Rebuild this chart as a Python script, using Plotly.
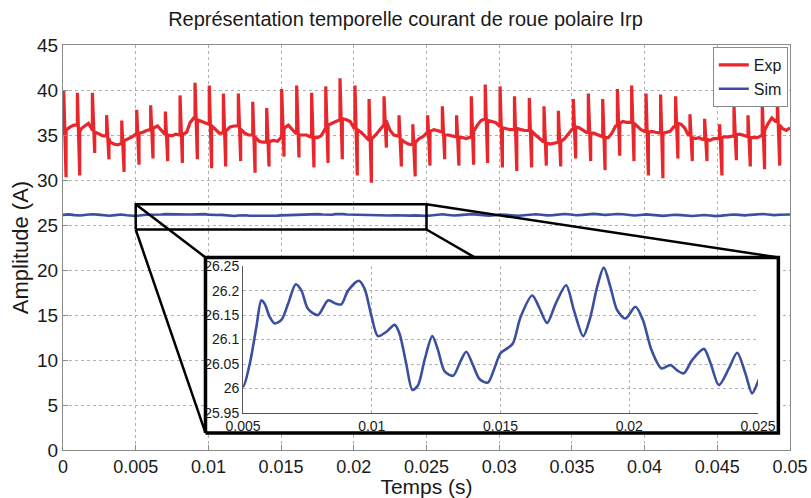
import plotly.graph_objects as go
import numpy as np

title = "Représentation temporelle courant de roue polaire Irp"

x_tickvals = [0, 0.005, 0.01, 0.015, 0.02, 0.025, 0.03, 0.035, 0.04, 0.045, 0.05]
x_ticktext = ["0", "0.005", "0.01", "0.015", "0.02", "0.025", "0.03", "0.035", "0.04", "0.045", "0.05"]
y_tickvals = [0, 5, 10, 15, 20, 25, 30, 35, 40, 45]

# Exp: baseline sampled every 0.25 ms
base_t = np.linspace(0, 0.05, 201)
base_v = [
    35.2, 35.6, 35.9, 36.1, 35.4, 35.7, 36.0, 36.3, 35.6, 35.3, 35.1, 34.9,
    34.6, 34.2, 34.0, 33.9, 34.1, 34.4, 34.6, 34.8, 35.1, 35.2, 35.3, 35.5,
    35.6, 35.8, 36.0, 35.5, 35.1, 35.0, 34.9, 35.1, 35.0, 35.1, 35.3, 36.4,
    36.9, 36.7, 36.5, 36.4, 36.2, 36.0, 35.6, 35.2, 35.2, 35.5, 35.9, 36.0,
    36.0, 35.6, 35.2, 35.0, 35.0, 34.7, 34.3, 34.2, 34.2, 34.3, 34.4, 34.3,
    34.8, 35.8, 36.1, 35.6, 35.2, 35.0, 35.0, 35.0, 34.8, 34.7, 34.7, 34.9,
    35.6, 36.1, 36.3, 36.5, 36.7, 36.8, 36.7, 36.5, 35.8, 35.6, 35.3, 34.9,
    34.4, 34.6, 35.0, 35.5, 36.0, 36.5, 35.5, 35.0, 34.9, 34.5, 34.2, 34.0,
    33.9, 34.2, 34.6, 34.8, 35.2, 35.4, 35.6, 35.5, 35.3, 35.0, 35.0, 34.9,
    34.8, 34.7, 34.7, 34.6, 34.8, 35.4, 36.1, 36.6, 36.8, 36.6, 36.5, 36.4,
    36.0, 35.8, 35.7, 35.6, 35.6, 35.7, 35.6, 35.5, 35.5, 35.4, 35.0, 34.6,
    34.3, 34.1, 34.0, 34.1, 34.2, 34.3, 34.6, 35.1, 35.6, 35.9, 35.8, 35.5,
    35.3, 35.2, 35.2, 35.0, 34.8, 34.7, 34.7, 35.2, 36.0, 36.3, 36.5, 36.4,
    36.4, 36.3, 36.0, 35.6, 35.4, 35.3, 35.4, 35.3, 35.2, 35.2, 35.3, 35.4,
    35.9, 36.3, 36.2, 35.8, 35.0, 34.7, 34.6, 34.7, 34.5, 34.5, 34.4, 34.6,
    34.6, 34.7, 34.8, 34.8, 34.9, 35.0, 35.1, 35.0, 34.8, 34.7, 34.7, 34.7,
    34.9, 35.5, 36.3, 36.9, 36.5, 36.1, 35.7, 35.5, 35.8,
]

# Exp: switching spikes (peak then dip)
spike_t = [
    0.00005, 0.00099, 0.00202, 0.00300, 0.00404, 0.00507, 0.00603, 0.00704, 0.00805, 0.00908,
    0.01006, 0.01103, 0.01206, 0.01305, 0.01401, 0.01504, 0.01607, 0.01710, 0.01807, 0.01905,
    0.02008, 0.02105, 0.02208, 0.02311, 0.02406, 0.02508, 0.02609, 0.02707, 0.02808, 0.02904,
    0.03006, 0.03105, 0.03207, 0.03308, 0.03407, 0.03510, 0.03613, 0.03712, 0.03813, 0.03911,
    0.04010, 0.04110, 0.04213, 0.04312, 0.04413, 0.04516, 0.04615, 0.04711, 0.04809, 0.04913,
]
spike_hi = [
    40.0, 39.7, 39.7, 37.2, 36.6, 37.8, 38.3, 37.6, 39.4, 40.8,
    40.5, 39.6, 39.6, 38.7, 38.0, 40.1, 40.5, 39.7, 40.4, 41.3,
    40.5, 39.0, 39.3, 37.2, 36.2, 37.2, 38.2, 37.2, 39.3, 40.6,
    40.4, 39.3, 39.1, 38.2, 37.7, 39.0, 39.6, 39.0, 40.1, 40.5,
    39.6, 39.5, 39.3, 37.3, 36.8, 36.2, 38.1, 37.2, 38.9, 39.1,
]
dip_t = [
    0.00021, 0.00115, 0.00218, 0.00316, 0.00420, 0.00523, 0.00619, 0.00720, 0.00821, 0.00924,
    0.01022, 0.01119, 0.01222, 0.01321, 0.01417, 0.01520, 0.01623, 0.01726, 0.01823, 0.01921,
    0.02024, 0.02121, 0.02224, 0.02327, 0.02422, 0.02524, 0.02625, 0.02723, 0.02824, 0.02920,
    0.03022, 0.03121, 0.03223, 0.03324, 0.03423, 0.03526, 0.03629, 0.03728, 0.03829, 0.03927,
    0.04026, 0.04126, 0.04229, 0.04328, 0.04429, 0.04532, 0.04631, 0.04727, 0.04825, 0.04929,
]
spike_lo = [
    30.3, 30.5, 33.0, 32.3, 30.9, 31.7, 32.4, 32.1, 31.9, 32.3,
    31.3, 31.5, 32.1, 30.8, 31.5, 32.6, 32.5, 31.4, 31.9, 32.3,
    30.5, 29.7, 33.6, 31.5, 30.4, 31.6, 32.3, 31.6, 31.7, 31.9,
    31.4, 31.0, 31.4, 31.6, 31.5, 32.4, 32.1, 31.1, 32.7, 32.1,
    30.5, 30.2, 32.4, 32.1, 32.1, 30.5, 32.2, 31.5, 31.2, 31.6,
]

# Sim
sim_t = [
    0.0, 0.0004, 0.0008, 0.0012, 0.0016, 0.0020, 0.0024, 0.0028, 0.0032, 0.0036, 0.0040, 0.0044, 0.0047,
    0.00500, 0.00526, 0.00552, 0.00571, 0.00584, 0.00604, 0.00623, 0.00649, 0.00675, 0.00705,
    0.00727, 0.00752, 0.00791, 0.00830, 0.00862, 0.00882, 0.00908, 0.00950, 0.00972, 0.00998,
    0.01024, 0.01057, 0.01089, 0.01108, 0.01134, 0.01158, 0.01180, 0.01205, 0.01235, 0.01257,
    0.01283, 0.01316, 0.01344, 0.01367, 0.01393, 0.01419, 0.01451, 0.01474, 0.01500, 0.01526,
    0.01548, 0.01578, 0.01623, 0.01649, 0.01681, 0.01714, 0.01755, 0.01785, 0.01821, 0.01849,
    0.01875, 0.01901, 0.01927, 0.01953, 0.01985, 0.02024, 0.02053, 0.02086, 0.02125, 0.02160,
    0.02186, 0.02212, 0.02244, 0.02290, 0.02316, 0.02348, 0.02387, 0.02419, 0.02451, 0.02477,
    0.02497, 0.0253, 0.0257, 0.0261, 0.0265, 0.0269, 0.0273, 0.0277, 0.0281, 0.0285, 0.0289,
    0.0293, 0.0297, 0.0301, 0.0305, 0.0309, 0.0313, 0.0317, 0.0321, 0.0325, 0.0329, 0.0333,
    0.0337, 0.0341, 0.0345, 0.0349, 0.0353, 0.0357, 0.0361, 0.0365, 0.0369, 0.0373, 0.0377,
    0.0381, 0.0385, 0.0389, 0.0393, 0.0397, 0.0401, 0.0405, 0.0409, 0.0413, 0.0417, 0.0421,
    0.0425, 0.0429, 0.0433, 0.0437, 0.0441, 0.0445, 0.0449, 0.0453, 0.0457, 0.0461, 0.0465,
    0.0469, 0.0473, 0.0477, 0.0481, 0.0485, 0.0489, 0.0493, 0.0497, 0.0500,
]
sim_v = [
    26.12, 26.18, 26.10, 26.05, 26.14, 26.20, 26.15, 26.08, 26.03, 26.10, 26.17, 26.09, 26.03,
    26.004, 26.05, 26.126, 26.18, 26.173, 26.146, 26.133, 26.14, 26.173, 26.213,
    26.20, 26.163, 26.15, 26.18, 26.173, 26.172, 26.20, 26.22, 26.204, 26.15,
    26.107, 26.116, 26.13, 26.112, 26.05, 25.997, 26.007, 26.058, 26.107, 26.079,
    26.035, 26.026, 26.055, 26.075, 26.048, 26.019, 26.012, 26.038, 26.072, 26.082,
    26.092, 26.146, 26.19, 26.167, 26.134, 26.173, 26.211, 26.16, 26.107, 26.146,
    26.207, 26.247, 26.207, 26.16, 26.143, 26.167, 26.14, 26.079, 26.041, 26.048,
    26.037, 26.031, 26.058, 26.081, 26.051, 26.007, 26.041, 26.073, 26.031, 25.99,
    26.01, 26.06, 26.14, 26.19, 26.12, 26.05, 26.10, 26.17, 26.21, 26.15, 26.08,
    26.03, 26.09, 26.16, 26.12, 26.05, 26.02, 26.08, 26.15, 26.20, 26.14, 26.07,
    26.10, 26.18, 26.22, 26.16, 26.09, 26.13, 26.20, 26.24, 26.18, 26.12, 26.17,
    26.23, 26.19, 26.11, 26.06, 26.12, 26.18, 26.13, 26.06, 26.02, 26.08, 26.14,
    26.10, 26.04, 26.00, 26.05, 26.11, 26.06, 25.99, 26.04, 26.12, 26.17, 26.12,
    26.07, 26.13, 26.19, 26.22, 26.16, 26.10, 26.14, 26.20, 26.17,
]

# zoom window and inset frame (main data units)
zoom_x = [0.005, 0.025]
zoom_y = [24.5, 27.3]
frame_x = [0.0098, 0.0492]
frame_y = [1.9, 21.4]

inset_xticks = [0.005, 0.01, 0.015, 0.02, 0.025]
inset_xtext = ["0.005", "0.01", "0.015", "0.02", "0.025"]
inset_yticks = [25.95, 26.0, 26.05, 26.1, 26.15, 26.2, 26.25]
inset_ytext = ["25.95", "26", "26.05", "26.1", "26.15", "26.2", "26.25"]

RED = "#e8262b"
BLUE = "#3b4f9f"
FONT = "Liberation Sans, Arial, sans-serif"

# build the Exp path: baseline samples with vertical switching spikes
spikes = sorted(zip(spike_t, spike_hi, dip_t, spike_lo))
exp_t, exp_v = [], []
k = 0
for t, v in zip(base_t, base_v):
    while k < len(spikes) and spikes[k][0] <= t:
        st, hi, dt, lo = spikes[k]
        prev = exp_v[-1] if exp_v else v
        exp_t += [st, st, dt, dt]
        exp_v += [prev, hi, lo, v]
        k += 1
    if exp_t and t < exp_t[-1]:
        continue
    exp_t.append(t)
    exp_v.append(v)

fig = go.Figure()

fig.add_trace(go.Scatter(x=exp_t, y=exp_v, mode='lines', name='Exp',
                         line=dict(color=RED, width=3.2)))
fig.add_trace(go.Scatter(x=sim_t, y=sim_v, mode='lines', name='Sim',
                         line=dict(color=BLUE, width=2.6)))

# zoom rectangle
fig.add_trace(go.Scatter(
    x=[zoom_x[0], zoom_x[1], zoom_x[1], zoom_x[0], zoom_x[0]],
    y=[zoom_y[0], zoom_y[0], zoom_y[1], zoom_y[1], zoom_y[0]],
    mode='lines', line=dict(color='black', width=2.5), showlegend=False, hoverinfo='skip'))

# connector lines to the inset frame corners
fig.add_trace(go.Scatter(
    x=[zoom_x[0], frame_x[0], None, zoom_x[0], frame_x[0], None,
       zoom_x[1], frame_x[1], None, zoom_x[1], frame_x[1]],
    y=[zoom_y[1], frame_y[1], None, zoom_y[0], frame_y[0], None,
       zoom_y[1], frame_y[1], None, zoom_y[0], frame_y[0]],
    mode='lines', line=dict(color='black', width=2.5), showlegend=False, hoverinfo='skip'))

# white inset frame
fig.add_trace(go.Scatter(
    x=[frame_x[0], frame_x[1], frame_x[1], frame_x[0], frame_x[0]],
    y=[frame_y[0], frame_y[0], frame_y[1], frame_y[1], frame_y[0]],
    mode='lines', fill='toself', fillcolor='white',
    line=dict(color='black', width=3.5), showlegend=False, hoverinfo='skip'))

# inset
fig.add_trace(go.Scatter(x=sim_t, y=sim_v, mode='lines', xaxis='x2', yaxis='y2',
                         line=dict(color=BLUE, width=2.6, shape='spline', smoothing=0.8),
                         showlegend=False))

grid = dict(showgrid=True, gridcolor='#b0b0b0', griddash='dot', gridwidth=1, zeroline=False,
            automargin=False)

fig.update_layout(
    width=811, height=498,
    margin=dict(l=63, r=21, t=45, b=48),
    paper_bgcolor='white', plot_bgcolor='white',
    font=dict(family=FONT, color='#1a1a1a'),
    title=dict(text=title, x=0.5, xref='container', xanchor='center', y=0.962, yanchor='middle',
               font=dict(size=20, family=FONT, color='#1a1a1a')),
    xaxis=dict(range=[0, 0.05], tickvals=x_tickvals, ticktext=x_ticktext,
               tickfont=dict(size=18), showline=True, mirror=True, linecolor='#8a8a8a',
               ticks='inside', ticklen=5, tickcolor='#8a8a8a',
               title=dict(text='Temps (s)', font=dict(size=21), standoff=0), **grid),
    yaxis=dict(range=[0, 45], tickvals=y_tickvals,
               tickfont=dict(size=19), showline=True, mirror=True, linecolor='#8a8a8a',
               ticks='inside', ticklen=5, tickcolor='#8a8a8a',
               title=dict(text='Amplitude (A)', font=dict(size=22), standoff=2), **grid),
    xaxis2=dict(domain=[0.2476, 0.956], anchor='y2', range=[0.005, 0.025],
                tickvals=inset_xticks, ticktext=inset_xtext, tickfont=dict(size=14),
                showline=True, linecolor='#555555', ticks='', ticklabelstandoff=0, **grid),
    yaxis2=dict(domain=[0.0914, 0.454], anchor='x2', range=[25.95, 26.25],
                tickvals=inset_yticks, ticktext=inset_ytext, tickfont=dict(size=14),
                showline=True, linecolor='#555555', ticks='', ticklabelstandoff=0, **grid),
    legend=dict(x=0.997, y=0.995, xanchor='right', yanchor='top',
                bgcolor='white', bordercolor='#8a8a8a', borderwidth=1,
                font=dict(size=16), tracegroupgap=0, itemwidth=30),
    showlegend=True,
)

# page body has a default 8px margin; remove it so the figure fills the window
fig.write_html("out.html", config={'displayModeBar': False},
               post_script="document.body.style.margin='0';")
